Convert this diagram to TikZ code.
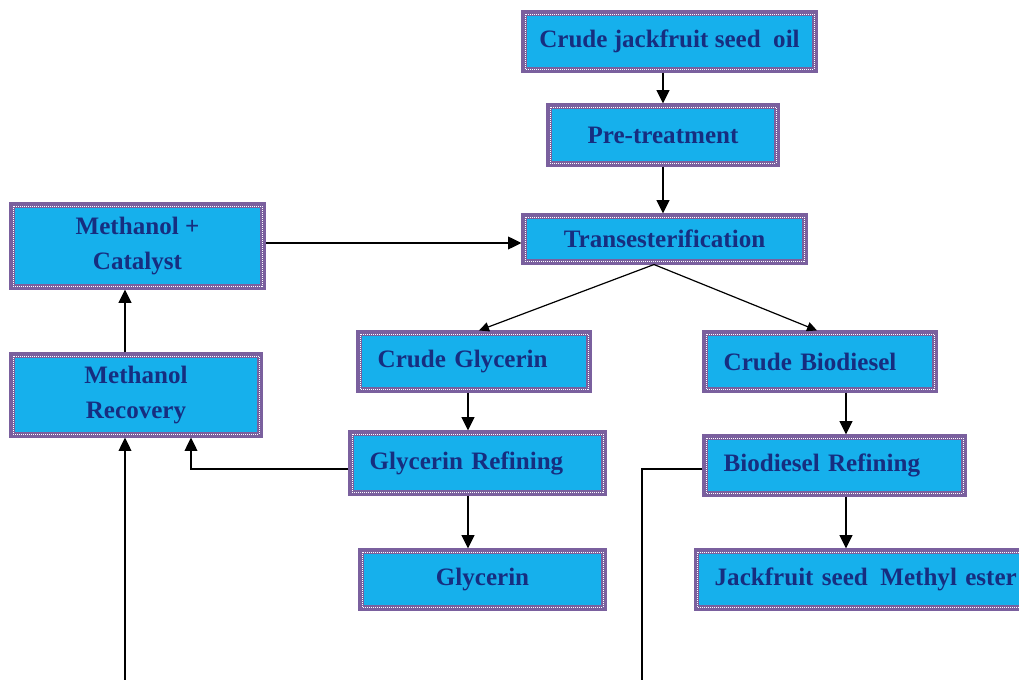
\documentclass[tikz,border=0pt]{standalone}
\usepackage{fontspec}
\setmainfont{Liberation Serif}
\usetikzlibrary{arrows.meta}
\definecolor{boxfill}{RGB}{22,176,236}
\definecolor{boxline}{RGB}{122,96,158}
\definecolor{boxtext}{RGB}{22,46,128}
\tikzset{
  box/.style={draw=boxline, line width=3.8pt, fill=boxfill, text=boxtext,
    font=\fontsize{18.8pt}{26pt}\selectfont\bfseries, align=center, inner sep=0pt},
  lbox/.style={box, align=left, inner xsep=14pt, text width=#1},
  dotline/.style={draw=white, line width=0.6pt, dash pattern=on 0.6pt off 0.9pt},
  arr/.style={line width=1.5pt, -{Triangle[length=10pt,width=9.5pt]}},
  thinarr/.style={line width=1.1pt, -{Triangle[length=10pt,width=9.5pt]}},
  diag/.style={line width=0.9pt, -{Triangle[length=7.5pt,width=7pt]}},
  feed/.style={line width=1.1pt}
}
\begin{document}
\begin{tikzpicture}[x=0.75pt,y=-0.75pt]
\useasboundingbox (0,0) rectangle (1019,680);
\clip (0,0) rectangle (1019,680);
\fill[white] (0,0) rectangle (1019,680);

\node[box, minimum width=218.25pt, minimum height=42.75pt] (oil) at (669.5,41.5) {Crude jackfruit seed\enspace oil};
\node[box, minimum width=171pt, minimum height=43.5pt] (pre) at (663,135) {Pre-treatment};
\node[box, minimum width=210.75pt, minimum height=34.5pt] (trans) at (664.5,239) {Transesterification};
\node[box, minimum width=188.25pt, minimum height=61.5pt] (mc) at (137.5,246) {Methanol +\\Catalyst};
\node[box, minimum width=186pt, minimum height=60pt] (mr) at (136,395) {Methanol\\Recovery};
\node[lbox=144.5pt, minimum width=172.5pt, minimum height=42.75pt] (cg) at (474,361.5) {Crude Glycerin};
\node[lbox=144.5pt, minimum width=172.5pt, minimum height=42.75pt] (cb) at (820,361.5) {Crude Biodiesel};
\node[lbox=161.75pt, minimum width=189.75pt, minimum height=45pt] (gr) at (477.5,463) {Glycerin Refining};
\node[lbox=166.25pt, minimum width=194.25pt, minimum height=42.75pt] (br) at (834.5,465.5) {Biodiesel Refining};
\node[box, minimum width=182.25pt, minimum height=42.75pt] (gly) at (482.5,579.5) {Glycerin};
\node[lbox=252pt, minimum width=280pt, minimum height=42.75pt] (me) at (882.7,579.5) {Jackfruit seed\enspace Methyl ester};

\foreach \n in {oil,pre,trans,mc,mr,cg,cb,gr,br,gly,me}
  \draw[dotline] ([shift={(3.6,3.6)}]\n.north west) rectangle ([shift={(-3.6,-3.6)}]\n.south east);

\coordinate (yh) at (0,243);
\coordinate (ts) at (654,0);
\coordinate (xcg) at (479,0);
\coordinate (xcb) at (817,0);
\coordinate (x468) at (468,0);
\coordinate (x846) at (846,0);
\coordinate (x125) at (125,0);
\coordinate (y470) at (0,469);
\coordinate (x191) at (191,0);
\coordinate (bot1) at (125,700);
\coordinate (bot2) at (642,700);

\draw[arr] (oil.south -| pre.north) -- (pre.north);
\draw[arr] (pre.south) -- (pre.south |- trans.north);
\draw[thinarr] (mc.east |- yh) -- (trans.west |- yh);
\draw[diag] (trans.south -| ts) -- (cg.north -| xcg);
\draw[diag] (trans.south -| ts) -- (cb.north -| xcb);
\draw[arr] (cg.south -| x468) -- (gr.north -| x468);
\draw[arr] (gr.south -| x468) -- (gly.north -| x468);
\draw[arr] (cb.south -| x846) -- (br.north -| x846);
\draw[arr] (br.south -| x846) -- (me.north -| x846);
\draw[arr] (mr.north -| x125) -- (mc.south -| x125);
\draw[feed, -{Triangle[length=10pt,width=9.5pt]}] (gr.west |- y470) -| (mr.south -| x191);
\draw[feed] (br.west |- y470) -| (bot2);
\draw[feed, -{Triangle[length=10pt,width=9.5pt]}] (bot1) -- (mr.south -| bot1);
\end{tikzpicture}
\end{document}
